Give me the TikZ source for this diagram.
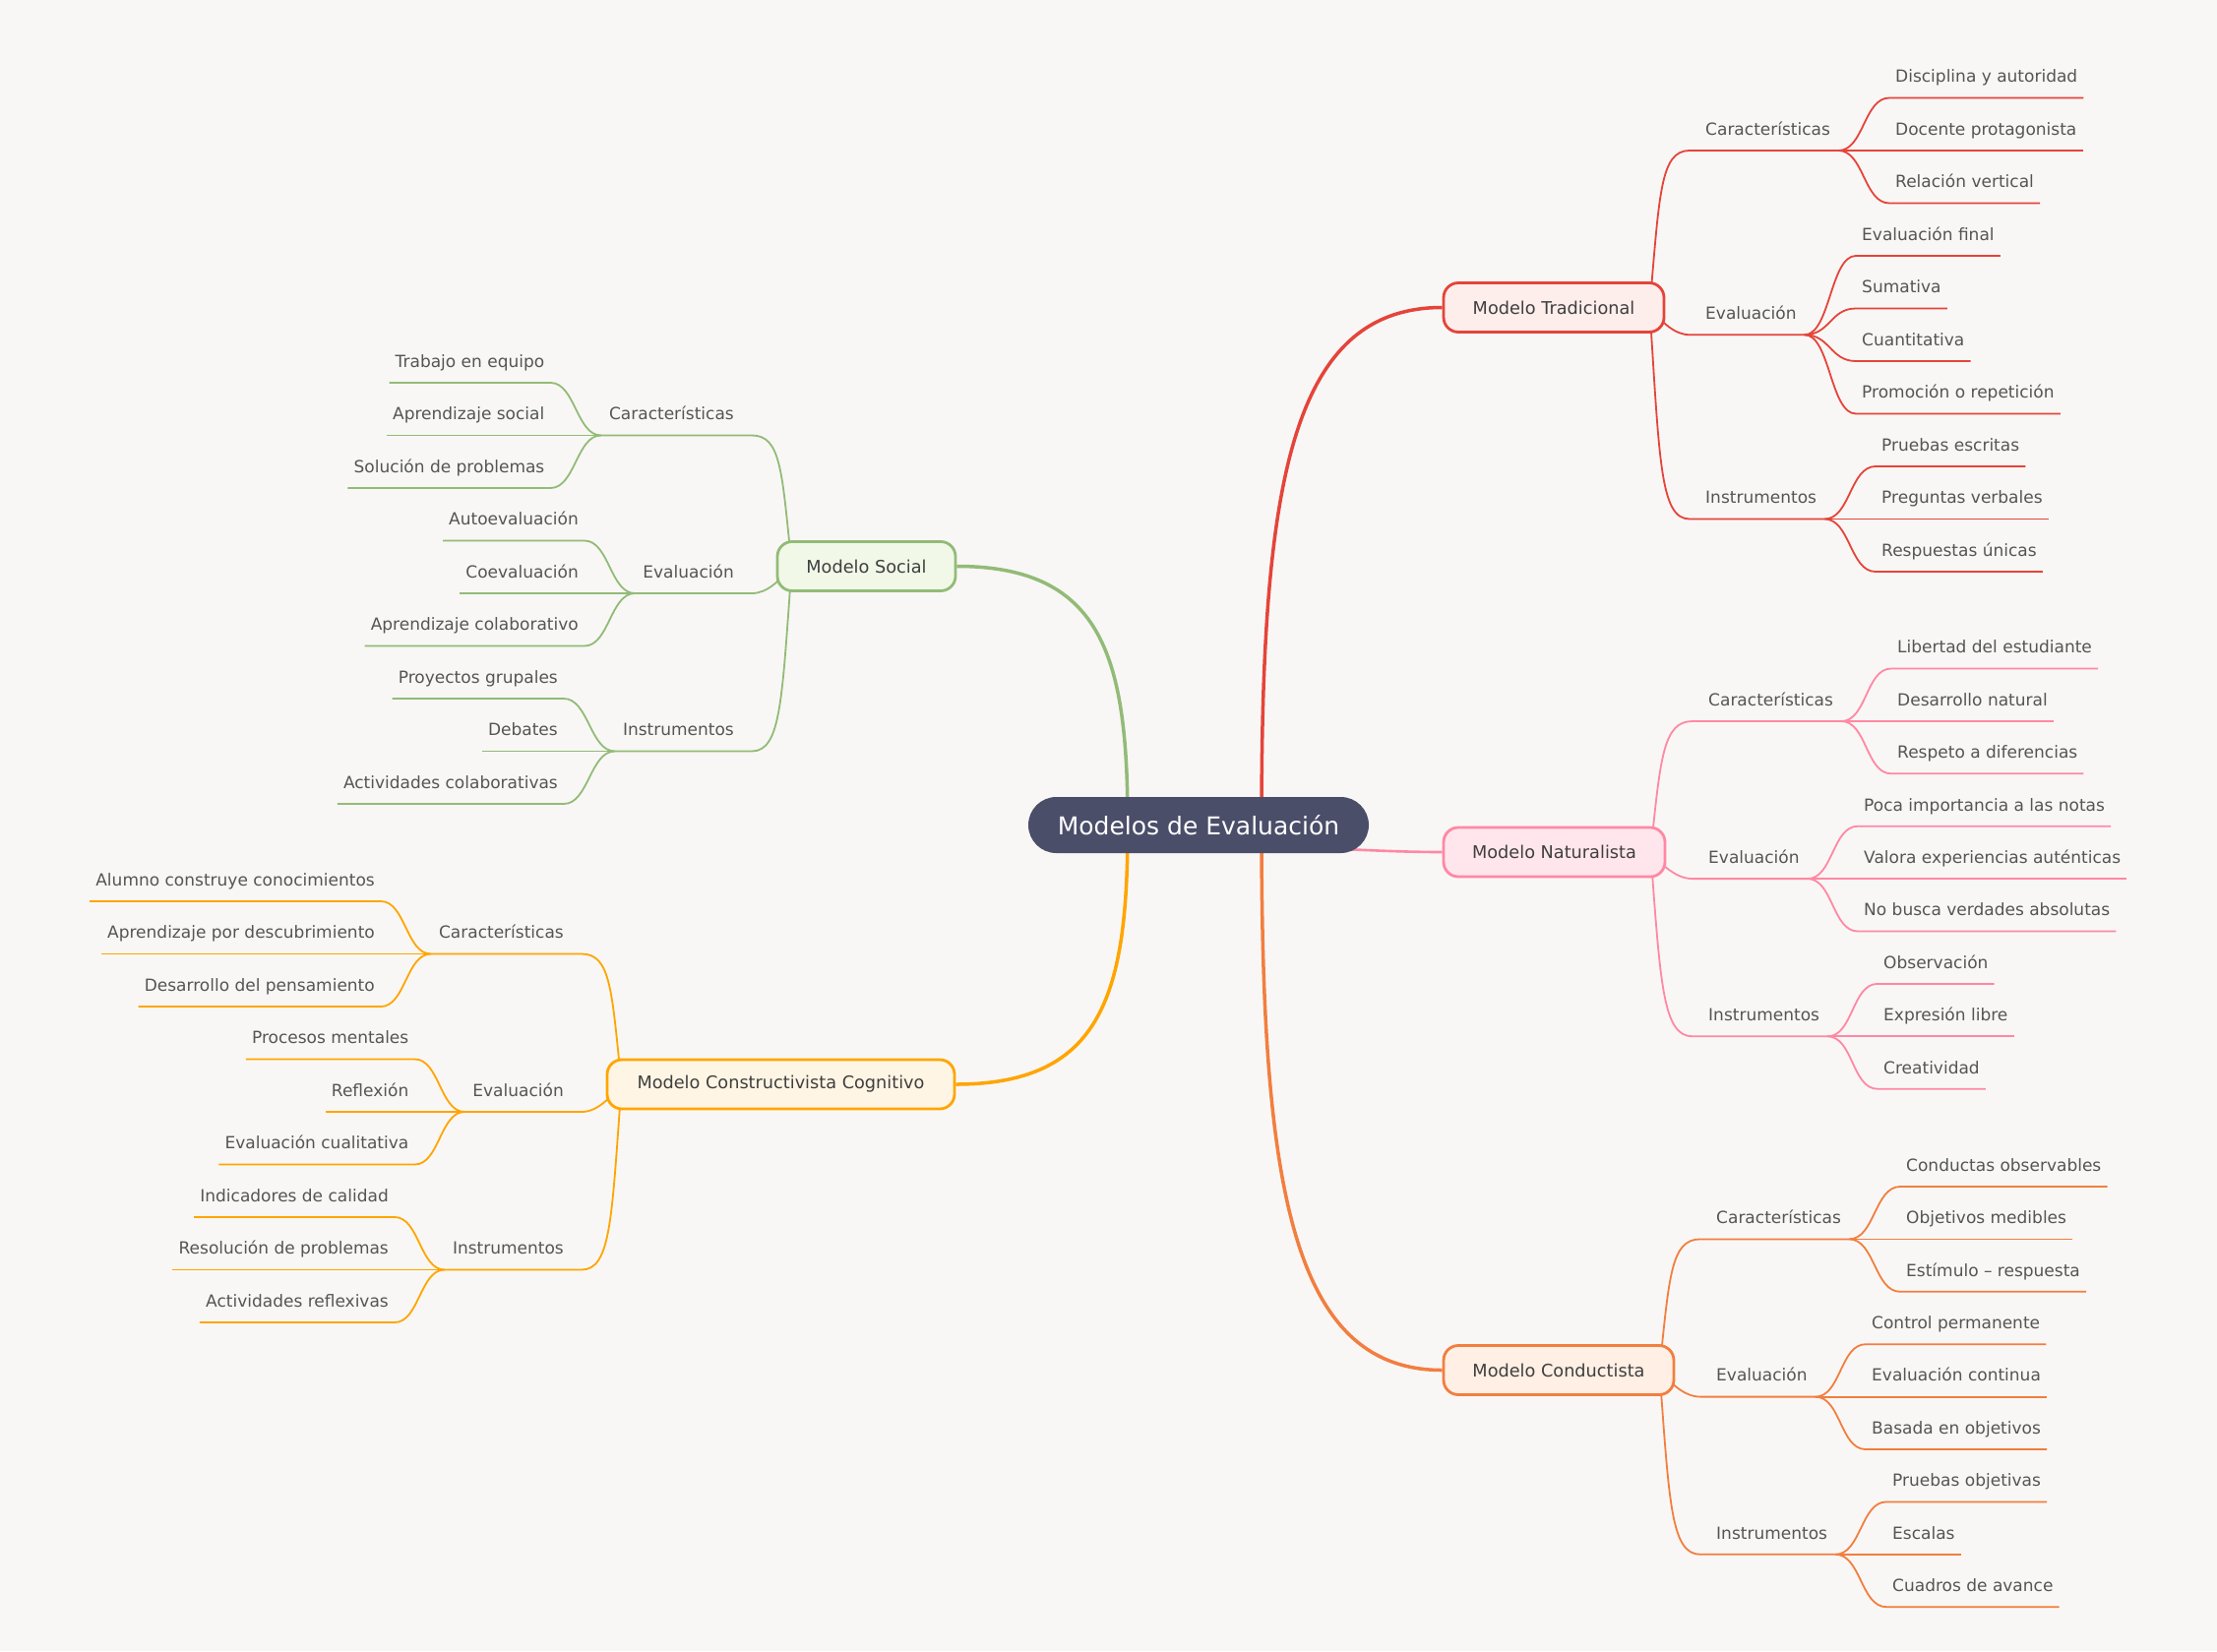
\documentclass[tikz,border=0pt]{standalone}
\usepackage{fontspec}
\setmainfont{DejaVu Sans}
\usetikzlibrary{calc}
\definecolor{bgc}{HTML}{F8F7F5}
\definecolor{txt}{HTML}{555555}
\definecolor{txtd}{HTML}{3F3F3F}
\definecolor{ctr}{HTML}{4A4E69}
\definecolor{cR}{HTML}{E5443A}\definecolor{fR}{HTML}{FDEDEB}
\definecolor{cP}{HTML}{FF88A4}\definecolor{fP}{HTML}{FFE6EC}
\definecolor{cO}{HTML}{F27E3F}\definecolor{fO}{HTML}{FFEFE4}
\definecolor{cG}{HTML}{92BB77}\definecolor{fG}{HTML}{F1F8E8}
\definecolor{cY}{HTML}{FFA500}\definecolor{fY}{HTML}{FFF5E4}
\pgfdeclarelayer{back}\pgfdeclarelayer{lines}
\pgfsetlayers{back,lines,main}
\tikzset{
  leaf/.style={font=\fontsize{17}{20}\selectfont, text=txt, inner xsep=6pt, inner ysep=11.5pt, text height=13pt, text depth=4pt},
  subl/.style={font=\fontsize{17}{20}\selectfont, text=txt, inner xsep=8pt, inner ysep=11.5pt, text height=13pt, text depth=4pt},
  lone/.style={line width=2.8pt, rounded corners=15pt, minimum height=50pt, inner sep=0pt, font=\fontsize{17.7}{21}\selectfont, text=txtd},
  root/.style={fill=ctr, rounded corners=28.5pt, minimum height=57pt, minimum width=346pt, inner sep=0pt, text=white, font=\fontsize{25}{30}\selectfont},
  mainlink/.style={line width=3.5pt},
  sublink/.style={line width=1.8pt},
}
% right side: sub connector and leaf connector
\newcommand\mmRsub[4]{\draw[sublink,#1] ([xshift=-16pt]#2.east) .. controls +(#4) and +(-30,0) .. ([xshift=-8pt]#3.south west) -- (#3.south east);}
\newcommand\mmRmid[3]{\draw[sublink,#1] ([xshift=-16pt]#2.east) .. controls +(12,14) and +(-16,0) .. ([xshift=-8pt]#3.south west) -- (#3.south east);}
\newcommand\mmRleaf[3]{\draw[sublink,#1] (#2.south east) .. controls +(26,0) and +(-26,0) .. (#3.south west) -- (#3.south east);}
% left side
\newcommand\mmLsub[4]{\draw[sublink,#1] ([xshift=16pt]#2.west) .. controls +(#4) and +(30,0) .. ([xshift=10pt]#3.south east) -- (#3.south west);}
\newcommand\mmLmid[3]{\draw[sublink,#1] ([xshift=16pt]#2.west) .. controls +(-12,14) and +(16,0) .. ([xshift=10pt]#3.south east) -- (#3.south west);}
\newcommand\mmLleaf[3]{\draw[sublink,#1] (#2.south west) .. controls +(-25,0) and +(25,0) .. (#3.south east) -- (#3.south west);}
\begin{document}
\begin{tikzpicture}[x=1pt,y=-1pt]
\begin{pgfonlayer}{back}
\fill[bgc] (0,0) rectangle (2253,1678);
\end{pgfonlayer}
\useasboundingbox (0,0) rectangle (2253,1678);

% ---------- root and first level ----------
\node[root] (C) at (1218,838.5) {Modelos de Evaluación};
\node[lone, draw=cR, fill=fR, minimum width=224pt] (T) at (1579,312.5) {Modelo Tradicional};
\node[lone, draw=cP, fill=fP, minimum width=225pt] (N) at (1579.5,866) {Modelo Naturalista};
\node[lone, draw=cO, fill=fO, minimum width=234pt] (K) at (1584,1392.5) {Modelo Conductista};
\node[lone, draw=cG, fill=fG, minimum width=181pt] (S) at (880.5,575.5) {Modelo Social};
\node[lone, draw=cY, fill=fY, minimum width=353pt] (V) at (793.5,1102) {Modelo Constructivista Cognitivo};

% ---------- second level, right ----------
\node[subl, anchor=south west] (TC) at (1725,153) {Características};
\node[subl, anchor=south west] (TE) at (1725,340.25) {Evaluación};
\node[subl, anchor=south west] (TI) at (1725,527.5) {Instrumentos};
\node[subl, anchor=south west] (NC) at (1728,733) {Características};
\node[subl, anchor=south west] (NE) at (1728,893.1) {Evaluación};
\node[subl, anchor=south west] (NI) at (1728,1053.3) {Instrumentos};
\node[subl, anchor=south west] (KC) at (1736,1259.4) {Características};
\node[subl, anchor=south west] (KE) at (1736,1419.6) {Evaluación};
\node[subl, anchor=south west] (KI) at (1736,1579.8) {Instrumentos};
% ---------- second level, left ----------
\node[subl, anchor=south east] (SC) at (754,442.5) {Características};
\node[subl, anchor=south east] (SE) at (754,603) {Evaluación};
\node[subl, anchor=south east] (SI) at (754,763.5) {Instrumentos};
\node[subl, anchor=south east] (VC) at (581,969.5) {Características};
\node[subl, anchor=south east] (VE) at (581,1130) {Evaluación};
\node[subl, anchor=south east] (VI) at (581,1290.5) {Instrumentos};

% ---------- leaves, right ----------
\node[leaf, anchor=south west] (T1) at (1920,99.5) {Disciplina y autoridad};
\node[leaf, anchor=south west] (T2) at (1920,153) {Docente protagonista};
\node[leaf, anchor=south west] (T3) at (1920,206.5) {Relación vertical};
\node[leaf, anchor=south west] (T4) at (1886,260) {Evaluación final};
\node[leaf, anchor=south west] (T5) at (1886,313.5) {Sumativa};
\node[leaf, anchor=south west] (T6) at (1886,367) {Cuantitativa};
\node[leaf, anchor=south west] (T7) at (1886,420.5) {Promoción o repetición};
\node[leaf, anchor=south west] (T8) at (1906,474) {Pruebas escritas};
\node[leaf, anchor=south west] (T9) at (1906,527.5) {Preguntas verbales};
\node[leaf, anchor=south west] (T10) at (1906,581) {Respuestas únicas};

\node[leaf, anchor=south west] (N1) at (1922,679.5) {Libertad del estudiante};
\node[leaf, anchor=south west] (N2) at (1922,733) {Desarrollo natural};
\node[leaf, anchor=south west] (N3) at (1922,786.3) {Respeto a diferencias};
\node[leaf, anchor=south west] (N4) at (1888,839.7) {Poca importancia a las notas};
\node[leaf, anchor=south west] (N5) at (1888,893.1) {Valora experiencias auténticas};
\node[leaf, anchor=south west] (N6) at (1888,946.5) {No busca verdades absolutas};
\node[leaf, anchor=south west] (N7) at (1908,999.9) {Observación};
\node[leaf, anchor=south west] (N8) at (1908,1053.3) {Expresión libre};
\node[leaf, anchor=south west] (N9) at (1908,1106.7) {Creatividad};

\node[leaf, anchor=south west] (K1) at (1931,1206) {Conductas observables};
\node[leaf, anchor=south west] (K2) at (1931,1259.4) {Objetivos medibles};
\node[leaf, anchor=south west] (K3) at (1931,1312.8) {Estímulo – respuesta};
\node[leaf, anchor=south west] (K4) at (1896,1366.2) {Control permanente};
\node[leaf, anchor=south west] (K5) at (1896,1419.6) {Evaluación continua};
\node[leaf, anchor=south west] (K6) at (1896,1473) {Basada en objetivos};
\node[leaf, anchor=south west] (K7) at (1917,1526.4) {Pruebas objetivas};
\node[leaf, anchor=south west] (K8) at (1917,1579.8) {Escalas};
\node[leaf, anchor=south west] (K9) at (1917,1633.2) {Cuadros de avance};

% ---------- leaves, left ----------
\node[leaf, anchor=south east] (S1) at (559.5,389) {Trabajo en equipo};
\node[leaf, anchor=south east] (S2) at (559.5,442.5) {Aprendizaje social};
\node[leaf, anchor=south east] (S3) at (559.5,496) {Solución de problemas};
\node[leaf, anchor=south east] (S4) at (594,549.5) {Autoevaluación};
\node[leaf, anchor=south east] (S5) at (594,603) {Coevaluación};
\node[leaf, anchor=south east] (S6) at (594,656.5) {Aprendizaje colaborativo};
\node[leaf, anchor=south east] (S7) at (573,710) {Proyectos grupales};
\node[leaf, anchor=south east] (S8) at (573,763.5) {Debates};
\node[leaf, anchor=south east] (S9) at (573,817) {Actividades colaborativas};

\node[leaf, anchor=south east] (V1) at (387,916) {Alumno construye conocimientos};
\node[leaf, anchor=south east] (V2) at (387,969.5) {Aprendizaje por descubrimiento};
\node[leaf, anchor=south east] (V3) at (387,1023) {Desarrollo del pensamiento};
\node[leaf, anchor=south east] (V4) at (421.5,1076.5) {Procesos mentales};
\node[leaf, anchor=south east] (V5) at (421.5,1130) {Reflexión};
\node[leaf, anchor=south east] (V6) at (421.5,1183.5) {Evaluación cualitativa};
\node[leaf, anchor=south east] (V7) at (401,1237) {Indicadores de calidad};
\node[leaf, anchor=south east] (V8) at (401,1290.5) {Resolución de problemas};
\node[leaf, anchor=south east] (V9) at (401,1344) {Actividades reflexivas};

% ---------- connectors ----------
\begin{pgfonlayer}{lines}
% main branches
\draw[mainlink,cR] ([xshift=64pt]C.center) .. controls +(0,-338) and +(-157,0) .. (T.west);
\draw[mainlink,cO] ([xshift=64pt]C.center) .. controls +(0,356) and +(-157,0) .. (K.west);
\draw[mainlink,cG] ([xshift=-72pt]C.center) .. controls +(0,-169) and +(149,0) .. (S.east);
\draw[mainlink,cY] ([xshift=-72pt]C.center) .. controls +(0,170) and +(150,0) .. (V.east);
\draw[line width=2.6pt,cP] ([xshift=80pt,yshift=-23pt]C.center) .. controls +(60,0) and +(-60,0) .. (N.west);

% Tradicional
\mmRsub{cR}{T}{TC}{10,-115}
\mmRmid{cR}{T}{TE}
\mmRsub{cR}{T}{TI}{10,155}
\mmRleaf{cR}{TC}{T1}\mmRleaf{cR}{TC}{T2}\mmRleaf{cR}{TC}{T3}
\mmRleaf{cR}{TE}{T4}\mmRleaf{cR}{TE}{T5}\mmRleaf{cR}{TE}{T6}\mmRleaf{cR}{TE}{T7}
\mmRleaf{cR}{TI}{T8}\mmRleaf{cR}{TI}{T9}\mmRleaf{cR}{TI}{T10}
% Naturalista
\mmRsub{cP}{N}{NC}{10,-96}
\mmRmid{cP}{N}{NE}
\mmRsub{cP}{N}{NI}{10,135}
\mmRleaf{cP}{NC}{N1}\mmRleaf{cP}{NC}{N2}\mmRleaf{cP}{NC}{N3}
\mmRleaf{cP}{NE}{N4}\mmRleaf{cP}{NE}{N5}\mmRleaf{cP}{NE}{N6}
\mmRleaf{cP}{NI}{N7}\mmRleaf{cP}{NI}{N8}\mmRleaf{cP}{NI}{N9}
% Conductista
\mmRsub{cO}{K}{KC}{10,-96}
\mmRmid{cO}{K}{KE}
\mmRsub{cO}{K}{KI}{10,135}
\mmRleaf{cO}{KC}{K1}\mmRleaf{cO}{KC}{K2}\mmRleaf{cO}{KC}{K3}
\mmRleaf{cO}{KE}{K4}\mmRleaf{cO}{KE}{K5}\mmRleaf{cO}{KE}{K6}
\mmRleaf{cO}{KI}{K7}\mmRleaf{cO}{KI}{K8}\mmRleaf{cO}{KI}{K9}
% Social
\mmLsub{cG}{S}{SC}{-10,-96}
\mmLmid{cG}{S}{SE}
\mmLsub{cG}{S}{SI}{-10,135}
\mmLleaf{cG}{SC}{S1}\mmLleaf{cG}{SC}{S2}\mmLleaf{cG}{SC}{S3}
\mmLleaf{cG}{SE}{S4}\mmLleaf{cG}{SE}{S5}\mmLleaf{cG}{SE}{S6}
\mmLleaf{cG}{SI}{S7}\mmLleaf{cG}{SI}{S8}\mmLleaf{cG}{SI}{S9}
% Constructivista
\mmLsub{cY}{V}{VC}{-10,-95}
\mmLmid{cY}{V}{VE}
\mmLsub{cY}{V}{VI}{-10,136}
\mmLleaf{cY}{VC}{V1}\mmLleaf{cY}{VC}{V2}\mmLleaf{cY}{VC}{V3}
\mmLleaf{cY}{VE}{V4}\mmLleaf{cY}{VE}{V5}\mmLleaf{cY}{VE}{V6}
\mmLleaf{cY}{VI}{V7}\mmLleaf{cY}{VI}{V8}\mmLleaf{cY}{VI}{V9}
\end{pgfonlayer}
\end{tikzpicture}
\end{document}
